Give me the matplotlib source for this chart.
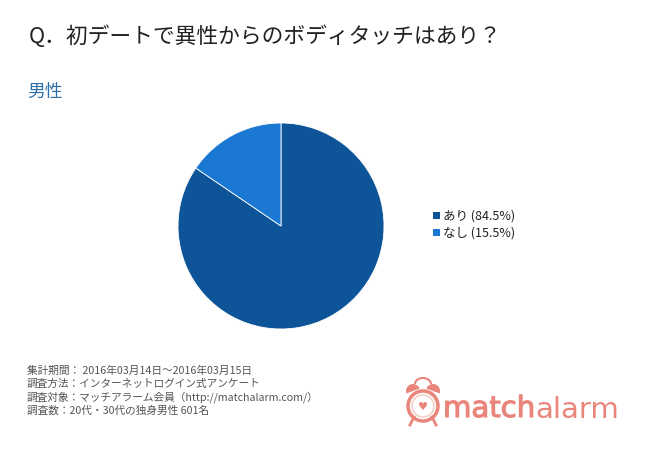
import matplotlib.pyplot as plt
import matplotlib.patheffects as pe
from matplotlib.patches import Circle, Wedge, Rectangle, Arc

plt.rcParams['font.family'] = ['Noto Sans CJK JP', 'DejaVu Sans']

title = "Q．初デートで異性からのボディタッチはあり？"
subtitle = "男性"
labels = ["あり", "なし"]
values = [84.5, 15.5]
colors = ["#0d5499", "#1a77d2"]
notes = [
    "集計期間： 2016年03月14日～2016年03月15日",
    "調査方法：インターネットログイン式アンケート",
    "調査対象：マッチアラーム会員（http://matchalarm.com/）",
    "調査数：20代・30代の独身男性 601名",
]

W, H = 650, 460
fig = plt.figure(figsize=(6.5, 4.6), dpi=100)
fig.patch.set_facecolor("white")

fig.text(29 / W, 1 - 37 / H, title, fontsize=15.7, color="#222222", va="center")
fig.text(27 / W, 1 - 92 / H, subtitle, fontsize=12.8, color="#2f6fa7", va="center")

# pie
ax = fig.add_axes([178 / W, 130 / H, 206 / W, 206 / H])
ax.pie(values, colors=colors, startangle=90, counterclock=False,
       wedgeprops=dict(edgecolor="white", linewidth=0.6))
ax.set_xlim(-1.0, 1.0)
ax.set_ylim(-1.0, 1.0)
ax.set_aspect("equal")

# legend
for i, (lab, v, c) in enumerate(zip(labels, values, colors)):
    y = 1 - (216 + i * 17) / H
    fig.patches.append(Rectangle((433 / W, y - 3.5 / H), 7 / W, 7 / H,
                                 transform=fig.transFigure, facecolor=c, edgecolor="none"))
    fig.text(443 / W, y, f"{lab} ({v}%)", fontsize=9, color="#222222", va="center")

# notes
for i, line in enumerate(notes):
    fig.text(27 / W, 1 - (371 + i * 13.3) / H, line, fontsize=7.7, color="#555555",
             va="center")

# logo
logo = "#e9857b"
lax = fig.add_axes([0, 0, 1, 1])
lax.set_xlim(0, W)
lax.set_ylim(H, 0)
lax.axis("off")
lax.add_patch(Arc((423, 385), 16, 12, theta1=180, theta2=360, color=logo, lw=1.5))
lax.add_patch(Wedge((413, 392), 7, 160, 340, facecolor=logo, edgecolor="none"))
lax.add_patch(Wedge((433, 392), 7, 200, 20, facecolor=logo, edgecolor="none"))
lax.plot([414, 410], [418, 426], color=logo, lw=2)
lax.plot([432, 436], [418, 426], color=logo, lw=2)
lax.add_patch(Circle((423, 407), 15, facecolor="white", edgecolor=logo, linewidth=2.5))
lax.add_patch(Circle((423, 407), 11, facecolor="white", edgecolor="#f6cfc9", linewidth=1.2))
lax.text(423, 407, "♥", color=logo, fontsize=8, ha="center", va="center", family="DejaVu Sans")
t1 = lax.text(443, 418, "match", color=logo, fontsize=21, va="baseline",
              family="DejaVu Sans",
              path_effects=[pe.withStroke(linewidth=0.8, foreground=logo)])
fig.canvas.draw()
bb = t1.get_window_extent()
x_end = lax.transData.inverted().transform((bb.x1, 0))[0]
lax.text(x_end, 418, "alarm", color=logo, fontsize=21, va="baseline",
         family="DejaVu Sans")

fig.savefig("out.png", dpi=100, facecolor="white")
